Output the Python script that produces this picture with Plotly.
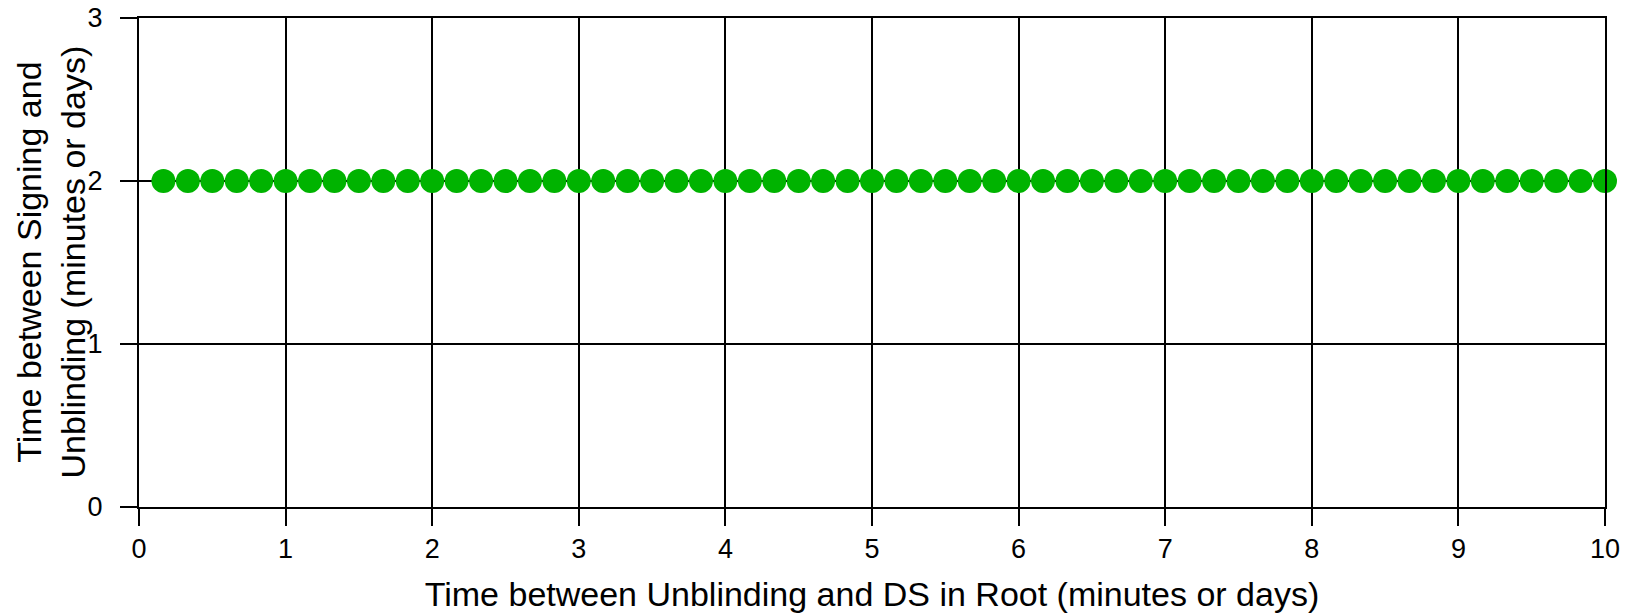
import plotly.graph_objects as go

# Data
x_values = [k / 6 for k in range(1, 61)]  # points at every 1/6 from 1/6 to 10
y_values = [2] * 60
x_ticks = [0, 1, 2, 3, 4, 5, 6, 7, 8, 9, 10]
y_ticks = [0, 1, 2, 3]

x_title = "Time between Unblinding and DS in Root (minutes or days)"
y_title = "Time between Signing and<br>Unblinding (minutes or days)"

FONT = "Liberation Sans, Arial, Helvetica, sans-serif"

fig = go.Figure()
fig.add_trace(go.Scatter(
    x=x_values, y=y_values, mode="markers",
    marker=dict(size=24, color="#00B300", line=dict(width=0)),
    cliponaxis=False, showlegend=False,
))

axis_common = dict(
    showgrid=True, gridcolor="black", gridwidth=1.5,
    showline=True, linecolor="black", linewidth=2, mirror=True,
    ticks="outside", ticklen=17, tickwidth=2, tickcolor="black",
    zeroline=False, automargin=False, ticklabeloverflow="allow",
    tickfont=dict(family=FONT, size=27, color="black"),
)

fig.update_layout(
    width=1633, height=613,
    margin=dict(l=139, r=28, t=18, b=106),
    paper_bgcolor="white", plot_bgcolor="white",
    font=dict(family=FONT, color="black"),
    xaxis=dict(range=[0, 10], tickvals=x_ticks, ticktext=[str(v) for v in x_ticks],
               title=dict(text=x_title, font=dict(family=FONT, size=34, color="black"), standoff=20),
               **axis_common),
    yaxis=dict(range=[0, 3], tickvals=y_ticks, ticktext=[str(v) for v in y_ticks],
               ticklabelstandoff=12,
               **axis_common),
)

fig.add_annotation(
    text=y_title, textangle=-90,
    xref="paper", yref="paper", x=0, y=0.5,
    xanchor="center", yanchor="middle", xshift=-89,
    showarrow=False,
    font=dict(family=FONT, size=34, color="black"),
)

fig.write_html("out.html", post_script="document.body.style.margin='0';",
               config={"displayModeBar": False})
